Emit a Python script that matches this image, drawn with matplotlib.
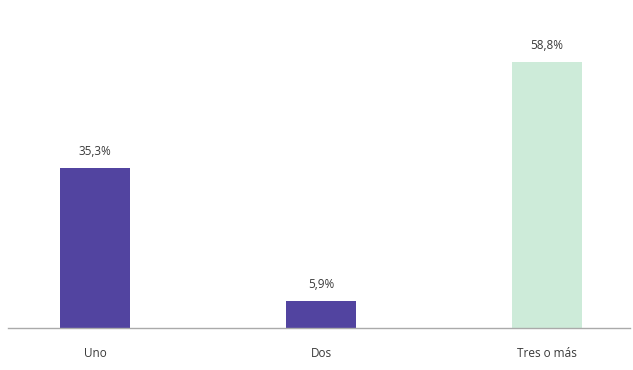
import matplotlib
matplotlib.use("Agg")
import matplotlib.pyplot as plt

categories = ["Uno", "Dos", "Tres o más"]
values = [35.3, 5.9, 58.8]
labels = ["35,3%", "5,9%", "58,8%"]
colors = ["#5244A0", "#5244A0", "#CDEBD9"]

fig = plt.figure(figsize=(6.33, 3.70), dpi=100)
ax = fig.add_axes([8/633, (370-328)/370, (630-8)/633, 328/370])
x = range(len(categories))
bars = ax.bar(x, values, width=0.31, color=colors)
for xi, v, lab in zip(x, values, labels):
    ax.text(xi, v + 2.3, lab, ha="center", va="bottom", fontsize=8.5, color="#3A3A3A",
            fontfamily="Open Sans")
ax.set_xlim(-0.385, 2.367)
ax.set_ylim(0, 72.5)
ax.set_xticks(list(x))
ax.set_xticklabels(categories, fontsize=8.5, color="#3A3A3A", fontfamily="Open Sans")
ax.tick_params(axis="x", length=0, pad=14)
ax.set_yticks([])
for s in ["top", "right", "left"]:
    ax.spines[s].set_visible(False)
ax.spines["bottom"].set_color("#AAAAAA")
ax.spines["bottom"].set_linewidth(1)
fig.savefig("out.png", dpi=100)
